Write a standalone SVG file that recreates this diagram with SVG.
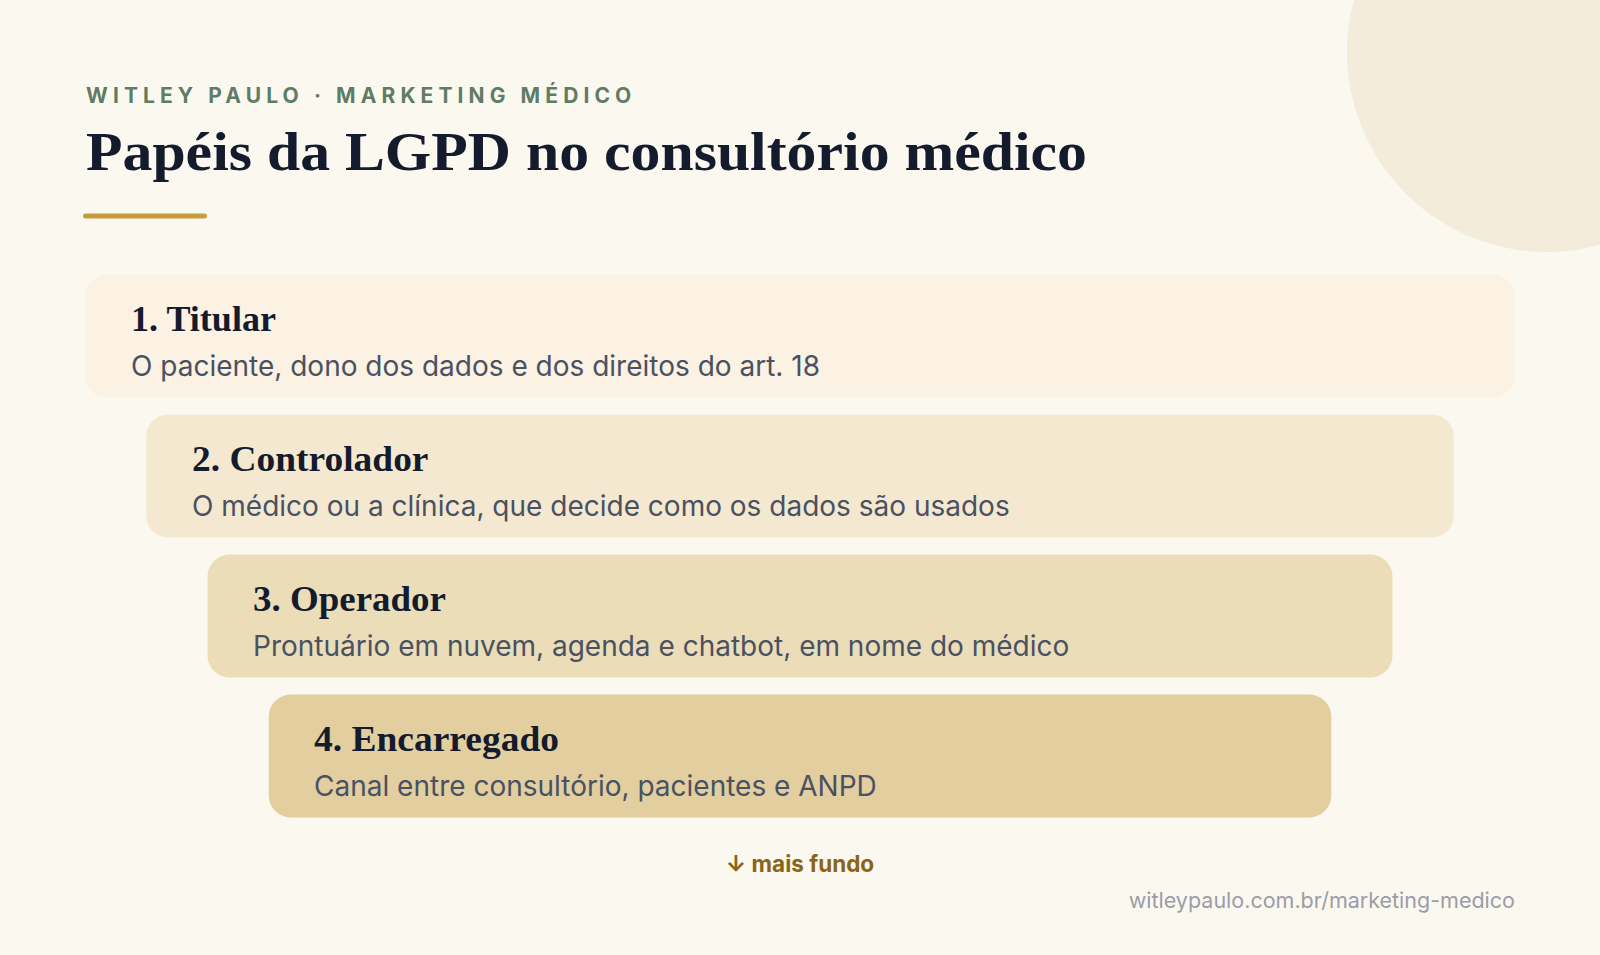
<svg xmlns="http://www.w3.org/2000/svg" width="1600" height="955" viewBox="0 0 1600 955">
<style>
.kicker{font-family:Inter,"Liberation Sans",sans-serif;font-weight:700;font-size:21px;letter-spacing:5.1px;fill:#5F7C65}
.title{font-family:"Liberation Serif",serif;font-weight:700;font-size:54px;fill:#141B2D}
.h{font-family:"Liberation Serif",serif;font-weight:700;font-size:36px;fill:#141B2D}
.d{font-family:Inter,"Liberation Sans",sans-serif;font-size:28px;fill:#4A5162}
.more{font-family:Inter,"Liberation Sans",sans-serif;font-weight:700;font-size:22.5px;fill:#8A6515}
.url{font-family:Inter,"Liberation Sans",sans-serif;font-size:21.5px;fill:#9A9DA9}
</style>
<rect x="0" y="0" width="1600" height="955" fill="#FBF8F0"/>
<circle cx="1547" cy="52" r="200" fill="#F3ECDB"/>
<g id="header">
<text class="kicker" x="86" y="103">WITLEY PAULO · MARKETING MÉDICO</text>
<text class="title" x="86" y="170" textLength="1001" lengthAdjust="spacingAndGlyphs">Papéis da LGPD no consultório médico</text>
<rect x="83" y="213.5" width="124" height="5" rx="2.5" fill="#C99B3C"/>
</g>
<g id="connectors"></g>
<g id="node-titular">
<rect x="85" y="274.5" width="1430" height="123" rx="22" fill="#FBF2E3"/>
<text class="h" x="131" y="331" textLength="145" lengthAdjust="spacingAndGlyphs">1. Titular</text>
<text class="d" x="131" y="376">O paciente, dono dos dados e dos direitos do art. 18</text>
</g>
<g id="node-controlador">
<rect x="146.25" y="414.5" width="1307.5" height="123" rx="22" fill="#F4E9D0"/>
<text class="h" x="192" y="471" textLength="236.5" lengthAdjust="spacingAndGlyphs">2. Controlador</text>
<text class="d" x="192" y="516">O médico ou a clínica, que decide como os dados são usados</text>
</g>
<g id="node-operador">
<rect x="207.5" y="554.5" width="1185" height="123" rx="22" fill="#EBDDB8"/>
<text class="h" x="253" y="611" textLength="193" lengthAdjust="spacingAndGlyphs">3. Operador</text>
<text class="d" x="253" y="656">Prontuário em nuvem, agenda e chatbot, em nome do médico</text>
</g>
<g id="node-encarregado">
<rect x="268.75" y="694.5" width="1062.5" height="123" rx="22" fill="#E2CE9F"/>
<text class="h" x="314" y="751" textLength="245" lengthAdjust="spacingAndGlyphs">4. Encarregado</text>
<text class="d" x="314" y="796">Canal entre consultório, pacientes e ANPD</text>
</g>
<g id="footer">
<text class="more" x="800" y="872" text-anchor="middle">↓ mais fundo</text>
<text class="url" x="1515" y="908" text-anchor="end">witleypaulo.com.br/marketing-medico</text>
</g>
</svg>
